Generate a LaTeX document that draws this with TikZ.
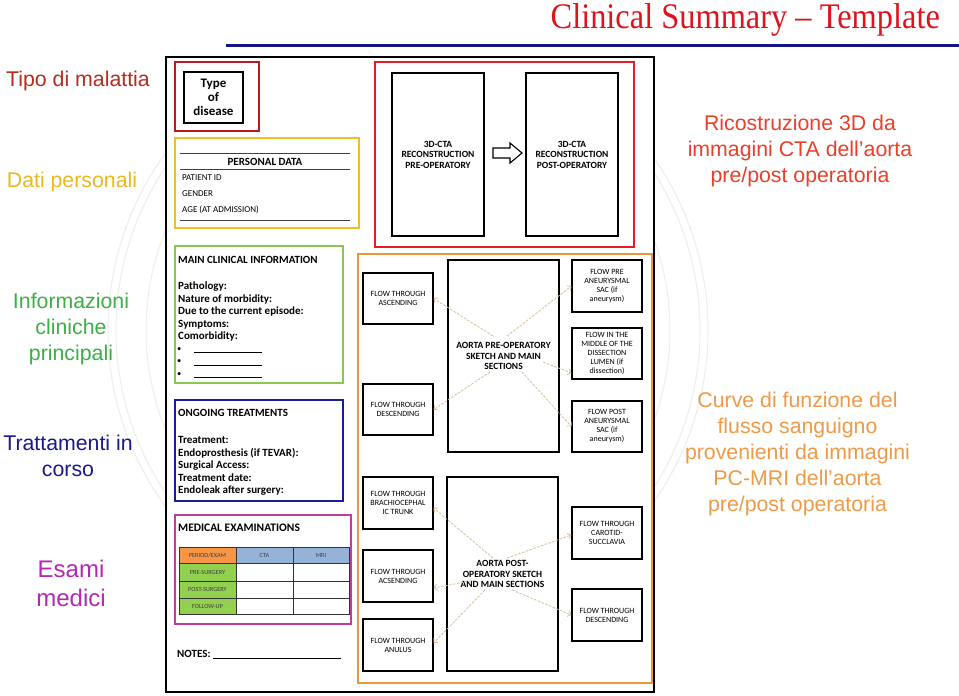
\documentclass[tikz,border=0pt]{standalone}
\usepackage{fontspec}
\usepackage{graphicx}
\setmainfont{Carlito}
\newfontfamily\lblfont{Liberation Sans}
\newfontfamily\ttlfont{Liberation Serif}
\usetikzlibrary{arrows.meta}
\definecolor{ttlred}{RGB}{220,20,30}
\definecolor{navyc}{RGB}{20,20,130}
\definecolor{dkred}{RGB}{185,25,35}
\definecolor{brred}{RGB}{228,30,38}
\definecolor{goldc}{RGB}{242,190,34}
\definecolor{lgreen}{RGB}{140,198,80}
\definecolor{bblue}{RGB}{26,26,156}
\definecolor{magc}{RGB}{196,58,160}
\definecolor{orngc}{RGB}{236,150,60}
\definecolor{tanc}{RGB}{215,190,150}
\definecolor{lTipo}{RGB}{180,45,30}
\definecolor{lDati}{RGB}{235,185,30}
\definecolor{lInfo}{RGB}{60,175,70}
\definecolor{lTratt}{RGB}{25,25,140}
\definecolor{lEsami}{RGB}{180,40,180}
\definecolor{lRic}{RGB}{232,64,42}
\definecolor{lCurve}{RGB}{238,154,72}
\definecolor{cOr}{RGB}{247,150,70}
\definecolor{cBl}{RGB}{149,179,215}
\definecolor{cGr}{RGB}{146,208,80}
\tikzset{
  lbl/.style={font=\lblfont\fontsize{21.3}{26}\selectfont, align=center, inner sep=0pt},
  frameb/.style={draw, inner sep=0pt},
  boxline/.style={draw=black, line width=1.1pt, fill=white, inner sep=0pt, align=center},
  flowbox/.style={boxline, minimum width=70pt, minimum height=51pt, font=\fontsize{8}{9}\selectfont},
  bigbox/.style={boxline, font=\bfseries\fontsize{9.5}{10.5}\selectfont},
  txtline/.style={anchor=west, inner sep=0pt, text height=8pt, text depth=2.5pt},
  flowarr/.style={draw=tanc, line width=0.8pt, dash pattern=on 2.5pt off 1.5pt, -{Straight Barb[length=3pt, width=6pt]}},
  tcell/.style={draw=black!80, line width=0.7pt, inner sep=0pt, font=\fontsize{6.3}{7}\selectfont, text=black!75},
  seal/.style={draw=black!7, line width=1pt},
}
\begin{document}
\begin{tikzpicture}[x=1pt,y=-1pt]
\useasboundingbox (0,0) rectangle (959,696);
\fill[white] (0,0) rectangle (959,696);

% faint watermark seal
\begin{scope}
\clip (0,60) rectangle (959,696);
\coordinate (sealc) at (408,330);
\draw[seal] (sealc) circle[radius=300pt];
\draw[seal] (sealc) circle[radius=292pt];
\draw[seal] (sealc) circle[radius=262pt];
\end{scope}

% title and rule
\node[anchor=base east, text=ttlred, font=\ttlfont\fontsize{36}{40}\selectfont, inner sep=0pt] (title) at (940,28) {\scalebox{0.9}[1]{Clinical Summary – Template}};
\coordinate (ruleL) at (226,45.5);
\coordinate (ruleR) at (959,45.5);
\draw[navyc, line width=3.5pt] (ruleL) -- (ruleR);

% main frame
\node[frameb, line width=2pt, fill=white, minimum width=488pt, minimum height=635pt] (frame) at (410,374.5) {};

% type of disease
\node[frameb, draw=dkred, line width=2.5pt, minimum width=84pt, minimum height=69pt] (typered) at (217,96.5) {};
\node[boxline, minimum width=59pt, minimum height=51pt, font=\bfseries\fontsize{13}{14}\selectfont] (type) at (213.5,97.5) {Type\\of\\disease};

% personal data
\node[frameb, draw=goldc, line width=2.5pt, minimum width=184pt, minimum height=90pt] (pers) at (267,183) {};
\coordinate (pl1a) at (180,153); \coordinate (pl1b) at (350,153);
\coordinate (pl2a) at (180,169); \coordinate (pl2b) at (350,169);
\coordinate (pl3a) at (180,220); \coordinate (pl3b) at (350,220);
\draw[black!75, line width=0.9pt] (pl1a) -- (pl1b) (pl2a) -- (pl2b) (pl3a) -- (pl3b);
\node[font=\bfseries\fontsize{11}{12}\selectfont, inner sep=0pt] (pdata) at (265,161.5) {PERSONAL DATA};
\node[txtline, font=\fontsize{9}{10}\selectfont] (pid) at (182,178) {PATIENT ID};
\node[txtline, font=\fontsize{9}{10}\selectfont] (pgen) at (182,193.5) {GENDER};
\node[txtline, font=\fontsize{9}{10}\selectfont] (page) at (182,209.5) {AGE (AT ADMISSION)};

% 3D CTA
\node[frameb, draw=brred, line width=2.5pt, minimum width=259pt, minimum height=185pt] (ctared) at (504.5,154.5) {};
\node[bigbox, minimum width=92pt, minimum height=163pt] (ctapre) at (438,154.5) {3D-CTA\\RECONSTRUCTION\\PRE-OPERATORY};
\node[bigbox, minimum width=92pt, minimum height=163pt] (ctapost) at (572,154.5) {3D-CTA\\RECONSTRUCTION\\POST-OPERATORY};
\coordinate (arr) at (493,153);
\draw[line width=1.1pt, fill=white, line join=miter]
  ([shift={(0,-5)}]arr) -- ([shift={(17,-5)}]arr) -- ([shift={(17,-10)}]arr) -- ([shift={(29,0)}]arr)
  -- ([shift={(17,10)}]arr) -- ([shift={(17,5)}]arr) -- ([shift={(0,5)}]arr) -- cycle;

% main clinical information
\node[frameb, draw=lgreen, line width=2.5pt, minimum width=168pt, minimum height=137pt] (clin) at (259,314.5) {};
\node[txtline, font=\bfseries\fontsize{11}{12}\selectfont] (clinh) at (178,261) {MAIN CLINICAL INFORMATION};
\foreach \t [count=\i] in {{Pathology:},{Nature of morbidity:},{Due to the current episode:},{Symptoms:},{Comorbidity:}}
  \node[txtline, font=\bfseries\fontsize{11}{12}\selectfont] (clin\i) at (178,{274.5+12.5*\i}) {\t};
\foreach \i in {1,2,3}
  \node[txtline, font=\fontsize{11}{12}\selectfont] (bul\i) at (177,{336+12.5*\i}) {{\fontsize{8.5}{9}\selectfont\textbullet}\hspace{13pt}\rule[-1.5pt]{68pt}{0.6pt}};

% ongoing treatments
\node[frameb, draw=bblue, line width=2.5pt, minimum width=168pt, minimum height=101pt] (treat) at (259,450.5) {};
\node[txtline, font=\bfseries\fontsize{11}{12}\selectfont] (treath) at (178,414) {ONGOING TREATMENTS};
\foreach \t [count=\i] in {{Treatment:},{Endoprosthesis (if TEVAR):},{Surgical Access:},{Treatment date:},{Endoleak after surgery:}}
  \node[txtline, font=\bfseries\fontsize{11}{12}\selectfont] (treat\i) at (178,{428.5+12.5*\i}) {\t};

% medical examinations
\node[frameb, draw=magc, line width=2.5pt, minimum width=176pt, minimum height=109pt] (exam) at (263,569.5) {};
\node[txtline, font=\bfseries\fontsize{11.5}{12}\selectfont] (examh) at (178,529) {MEDICAL EXAMINATIONS};
\node[tcell, fill=cOr, minimum width=57pt, minimum height=16pt] (c11) at (207.5,555) {PERIOD/EXAM};
\node[tcell, fill=cBl, minimum width=57pt, minimum height=16pt] (c12) at (264.5,555) {CTA};
\node[tcell, fill=cBl, minimum width=56pt, minimum height=16pt] (c13) at (321,555) {MRI};
\node[tcell, fill=cGr, minimum width=57pt, minimum height=18pt] (c21) at (207.5,572) {PRE-SURGERY};
\node[tcell, minimum width=57pt, minimum height=18pt] (c22) at (264.5,572) {};
\node[tcell, minimum width=56pt, minimum height=18pt] (c23) at (321,572) {};
\node[tcell, fill=cGr, minimum width=57pt, minimum height=17pt] (c31) at (207.5,589.5) {POST-SURGERY};
\node[tcell, minimum width=57pt, minimum height=17pt] (c32) at (264.5,589.5) {};
\node[tcell, minimum width=56pt, minimum height=17pt] (c33) at (321,589.5) {};
\node[tcell, fill=cGr, minimum width=57pt, minimum height=16pt] (c41) at (207.5,606) {FOLLOW-UP};
\node[tcell, minimum width=57pt, minimum height=16pt] (c42) at (264.5,606) {};
\node[tcell, minimum width=56pt, minimum height=16pt] (c43) at (321,606) {};

% notes
\node[txtline, font=\bfseries\fontsize{11}{12}\selectfont] (notes) at (177,655) {NOTES: \rule[-1pt]{128pt}{0.6pt}};

% flow section
\node[frameb, draw=orngc, line width=2.5pt, minimum width=294pt, minimum height=429pt] (flow) at (505,468.5) {};
\node[bigbox, minimum width=111pt, minimum height=192pt] (aortapre) at (503.5,356) {AORTA PRE-OPERATORY\\SKETCH AND MAIN\\SECTIONS};
\node[bigbox, minimum width=111pt, minimum height=194pt] (aortapost) at (502.5,574) {AORTA POST-\\OPERATORY SKETCH\\AND MAIN SECTIONS};

\node[flowbox] (asc) at (398,298.5) {FLOW THROUGH\\ASCENDING};
\node[flowbox] (desc) at (398,409.5) {FLOW THROUGH\\DESCENDING};
\node[flowbox, minimum height=52pt] (preane) at (607,286) {FLOW PRE\\ANEURYSMAL\\SAC (if\\aneurysm)};
\node[flowbox] (middle) at (607,353.5) {FLOW IN THE\\MIDDLE OF THE\\DISSECTION\\LUMEN (if\\dissection)};
\node[flowbox] (postane) at (607,426.5) {FLOW POST\\ANEURYSMAL\\SAC (if\\aneurysm)};

\node[flowbox, minimum height=52pt] (brach) at (398,503) {FLOW THROUGH\\BRACHIOCEPHAL\\IC TRUNK};
\node[flowbox, minimum height=52pt] (acs) at (398,576) {FLOW THROUGH\\ACSENDING};
\node[flowbox, minimum height=52pt] (anulus) at (398,645) {FLOW THROUGH\\ANULUS};
\node[flowbox, minimum height=52pt] (carot) at (607,533) {FLOW THROUGH\\CAROTID-\\SUCCLAVIA};
\node[flowbox, minimum height=52pt] (desc2) at (607,615) {FLOW THROUGH\\DESCENDING};

% flow connectors
\coordinate (s1) at (493,336);
\coordinate (s2) at (507,336);
\coordinate (s3) at (490,372);
\coordinate (s4) at (543,362);
\coordinate (s5) at (522,372);
\draw[flowarr] (s1) -- (asc.east);
\draw[flowarr] (s2) -- (preane.west);
\draw[flowarr] (s3) -- (desc.east);
\draw[flowarr] (s4) -- (middle.west |- 0,373);
\draw[flowarr] (s5) -- (postane.west);
\coordinate (t1) at (493,558);
\coordinate (t2) at (507,558);
\coordinate (t3) at (475,580);
\coordinate (t4) at (485,590);
\coordinate (t5) at (512,590);
\draw[flowarr] (t1) -- (brach.east |- 0,508);
\draw[flowarr] (t2) -- (carot.west |- 0,535);
\draw[flowarr] (t3) -- (acs.east |- 0,588);
\draw[flowarr] (t4) -- (anulus.east |- 0,643);
\draw[flowarr] (t5) -- (desc2.west);

% side labels
\node[lbl, text=lTipo] (lab1) at (78,81) {Tipo di malattia};
\node[lbl, text=lDati] (lab2) at (72,182) {Dati personali};
\node[lbl, text=lInfo] (lab3) at (71,329) {Informazioni\\cliniche\\principali};
\node[lbl, text=lTratt] (lab4) at (68,456) {Trattamenti in\\corso};
\node[lbl, text=lEsami, font=\lblfont\fontsize{24}{29}\selectfont] (lab5) at (71,583) {Esami\\medici};
\node[lbl, text=lRic] (lab6) at (800,151) {Ricostruzione 3D da\\immagini CTA dell’aorta\\pre/post operatoria};
\node[lbl, text=lCurve] (lab7) at (797.5,454) {Curve di funzione del\\flusso sanguigno\\provenienti da immagini\\PC-MRI dell’aorta\\pre/post operatoria};
\end{tikzpicture}
\end{document}
